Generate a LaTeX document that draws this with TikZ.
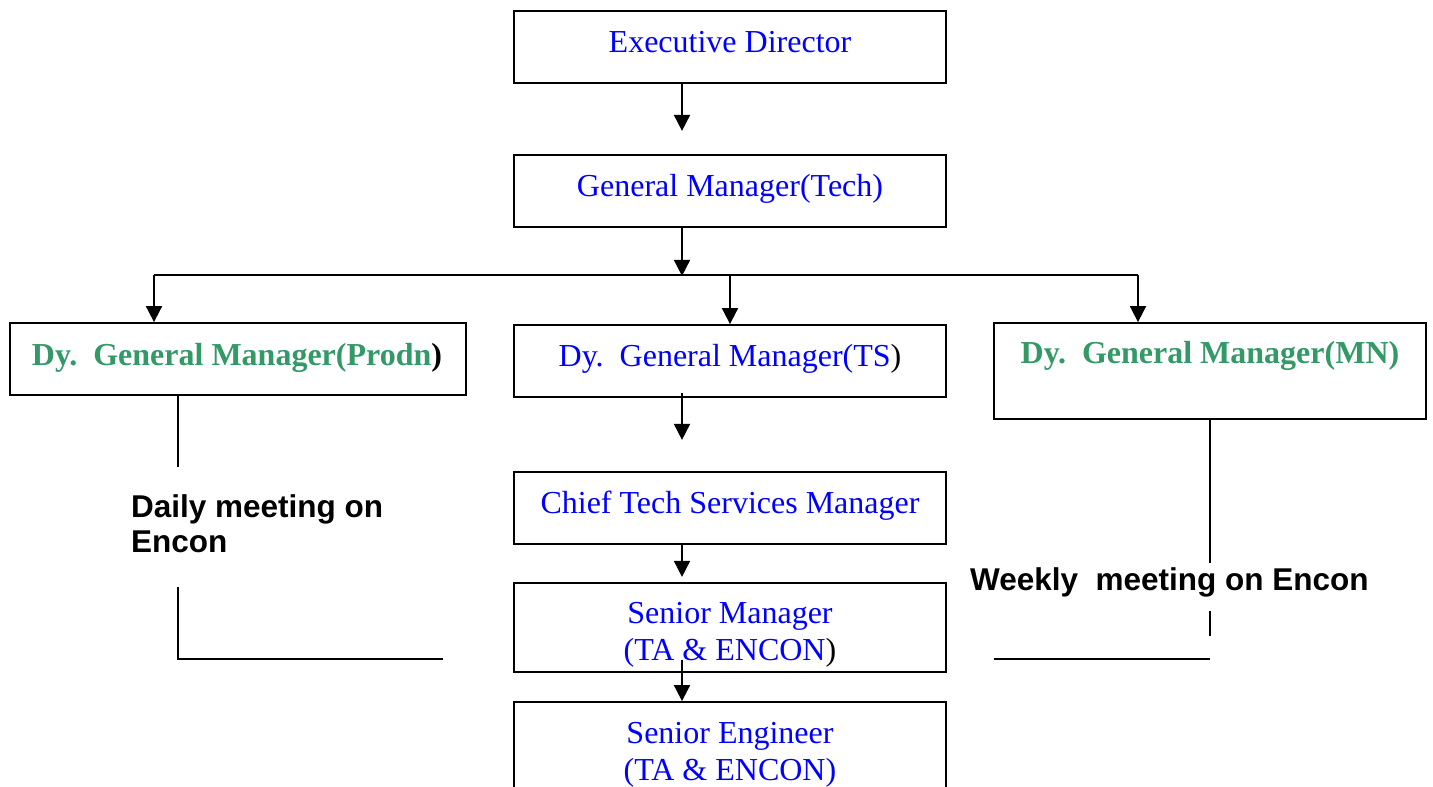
\documentclass[tikz,border=0pt]{standalone}
\usepackage{fontspec}
\setmainfont{Liberation Serif}
\newfontfamily\labelsans{Liberation Sans}
\usetikzlibrary{arrows.meta,calc}
\definecolor{rolegreen}{RGB}{51,153,102}
\begin{document}
\begin{tikzpicture}[x=1pt,y=-1pt,
  box/.style={draw=black,line width=1.8pt,rectangle,inner sep=0pt,minimum width=432pt},
  bluetxt/.style={text=blue,font=\fontsize{32}{37}\selectfont,anchor=base,inner sep=0pt,align=center},
  greentxt/.style={text=rolegreen,font=\fontsize{32}{37}\selectfont\bfseries,anchor=base,inner sep=0pt},
  notetxt/.style={font=\labelsans\fontsize{31.5}{35}\selectfont\bfseries,anchor=base west,inner sep=0pt,align=left},
  arr/.style={line width=1.8pt,-{Triangle[width=16pt,length=16pt]}},
  ln/.style={line width=1.8pt}]
\useasboundingbox (0,0) rectangle (1433,787);

% boxes
\node[box,minimum height=72pt] (ed) at (730,47) {};
\node[box,minimum height=72pt] (gm) at (730,191) {};
\node[box,minimum width=456pt,minimum height=72pt] (prodn) at (238,359) {};
\node[box,minimum height=72pt] (ts) at (730,361) {};
\node[box,minimum height=96pt] (mn) at (1210,371) {};
\node[box,minimum height=72pt] (ctsm) at (730,508) {};
\node[box,minimum height=89pt] (sm) at (730,627.5) {};
\node[box,minimum height=120pt] (se) at (730,762) {};

% box texts
\node[bluetxt] (edT) at (730,52) {Executive Director};
\node[bluetxt] (gmT) at (730,196) {General Manager(Tech)};
\node[greentxt] (prodnT) at (237,365) {Dy.\ \ General Manager(Prodn\textcolor{black}{)}};
\node[bluetxt] (tsT) at (730,366) {Dy.\ \ General Manager(TS\textcolor{black}{)}};
\node[greentxt] (mnT) at (1210,363) {Dy.\ \ General Manager(MN)};
\node[bluetxt] (ctsmT) at (730,513) {Chief Tech Services Manager};
\node[bluetxt] (smT1) at (730,623) {Senior Manager};
\node[bluetxt] (smT2) at (730,660) {(TA \& ENCON\textcolor{black}{)}};
\node[bluetxt] (seT1) at (730,743) {Senior Engineer};
\node[bluetxt] (seT2) at (730,780) {(TA \& ENCON)};

% meeting notes (base anchor sits on the last line)
\node[notetxt] (daily) at (131,552) {Daily meeting on\\Encon};
\node[notetxt] (weekly) at (970,590) {Weekly\ \ meeting on Encon};

% vertical chain
\draw[arr] ([xshift=-48pt]ed.south) -- ++(0,47);
\draw[arr] ([xshift=-48pt]gm.south) -- ++(0,48) coordinate (busmid);

% distribution bus
\coordinate (busL) at (154,275);
\coordinate (busR) at (1138,275);
\draw[ln] (busL) -- (busR);
\draw[arr] (busL) -- (busL |- prodn.north);
\draw[arr] (ts.north |- busL) -- (ts.north);
\draw[arr] (busR) -- (busR |- mn.north);

\draw[arr] ([xshift=-48pt,yshift=5pt]ts.south) -- ++(0,47);
\draw[arr] ([xshift=-48pt]ctsm.south) -- ++(0,32);
\draw[arr] ([xshift=-48pt]sm.south) ++(0,-13) -- ([xshift=-48pt]se.north);

% meeting links
\draw[ln] (prodn.south -| 178,0) -- (178,467);
\draw[ln] (178,587) -- (178,659) -- (443,659);
\draw[ln] (mn.south) -- (1210,563);
\draw[ln] (1210,611) -- (1210,636);
\draw[ln] (994,659) -- (1210,659);
\end{tikzpicture}
\end{document}
